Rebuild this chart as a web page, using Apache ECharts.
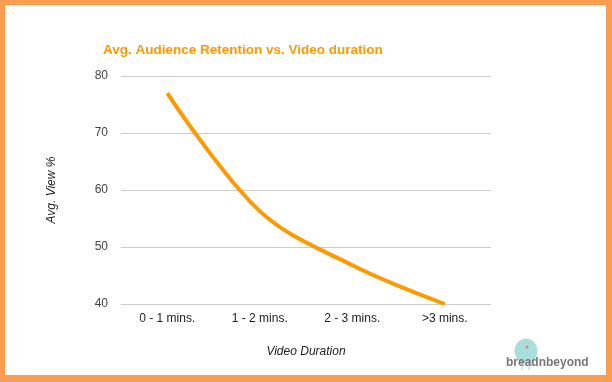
<!DOCTYPE html>
<html>
<head>
<meta charset="utf-8">
<script src="https://cdn.jsdelivr.net/npm/echarts@6/dist/echarts.min.js"></script>
<style>
html,body{margin:0;padding:0;background:#fff;}
#c{width:612px;height:382px;}
</style>
</head>
<body>
<div id="c"></div>
<script>
const categories = ['0 - 1 mins.', '1 - 2 mins.', '2 - 3 mins.', '>3 mins.'];
const avgView = [77, 56.3, 46.8, 40];
const yTicks = { min: 40, max: 80, interval: 10 };

const chart = echarts.init(document.getElementById('c'));
chart.setOption({
  animation: false,
  backgroundColor: '#fff',
  title: {
    text: 'Avg. Audience Retention vs. Video duration',
    left: 98, top: 38,
    textStyle: { color: '#FF9900', fontFamily: 'Liberation Sans, Arial', fontWeight: 'bold', fontSize: 13.5 }
  },
  grid: { left: 121, right: 121, top: 76, bottom: 78 },
  xAxis: {
    type: 'category',
    data: categories,
    boundaryGap: true,
    axisLine: { show: false },
    axisTick: { show: false },
    axisLabel: { color: '#222', fontSize: 12, fontFamily: 'Liberation Sans, Arial', margin: 9 },
    name: 'Video Duration',
    nameLocation: 'middle',
    nameGap: 42,
    nameTextStyle: { color: '#222', fontStyle: 'italic', fontSize: 12, fontFamily: 'Liberation Sans, Arial' }
  },
  yAxis: {
    type: 'value',
    min: yTicks.min, max: yTicks.max, interval: yTicks.interval,
    axisLine: { show: false },
    axisTick: { show: false },
    splitLine: { lineStyle: { color: '#cccccc', width: 1 } },
    axisLabel: { color: '#444', fontSize: 12, fontFamily: 'Liberation Sans, Arial', margin: 13 },
    name: 'Avg. View %',
    nameLocation: 'middle',
    nameGap: 63,
    nameTextStyle: { color: '#222', fontStyle: 'italic', fontSize: 12, fontFamily: 'Liberation Sans, Arial' }
  },
  series: [{
    type: 'line',
    data: avgView,
    smooth: 0.35,
    showSymbol: false,
    lineStyle: { color: '#FF9900', width: 4 }
  }],
  graphic: [
    { type: 'rect', shape: { x: 0, y: 0, width: 612, height: 5 }, style: { fill: '#FA9D50' } },
    { type: 'rect', shape: { x: 0, y: 0, width: 5, height: 382 }, style: { fill: '#FA9D50' } },
    { type: 'rect', shape: { x: 606, y: 0, width: 6, height: 382 }, style: { fill: '#FA9D50' } },
    { type: 'rect', shape: { x: 0, y: 375, width: 612, height: 7 }, style: { fill: '#FA9D50' } },
    { type: 'ellipse', shape: { cx: 526, cy: 351, rx: 11.5, ry: 12.5 }, style: { fill: '#A8DEDB' } },
    { type: 'line', shape: { x1: 522, y1: 360, x2: 522, y2: 370 }, style: { stroke: '#B8C8C8', lineWidth: 1 } },
    { type: 'line', shape: { x1: 529, y1: 360, x2: 529, y2: 370 }, style: { stroke: '#B8C8C8', lineWidth: 1 } },
    { type: 'circle', shape: { cx: 527, cy: 347, r: 1.5 }, style: { fill: '#F08070' } },
    { type: 'text', left: 506, top: 357, style: { text: 'breadnbeyond', fill: '#777', font: 'bold 12px "Liberation Sans", Arial' } }
  ]
});
</script>
</body>
</html>
